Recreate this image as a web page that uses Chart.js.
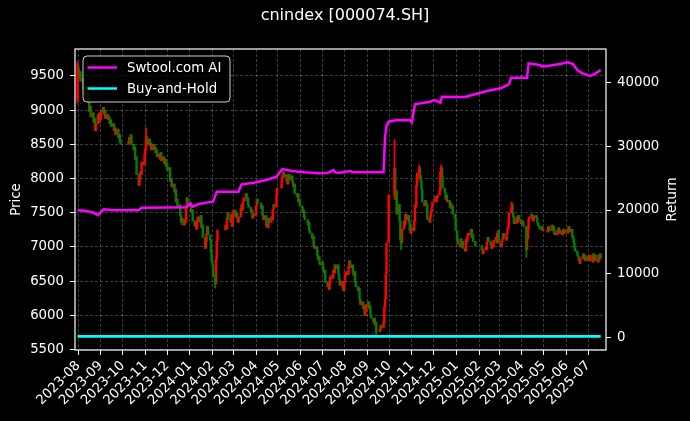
<!DOCTYPE html>
<html>
<head>
<meta charset="utf-8">
<script src="https://cdn.jsdelivr.net/npm/chart.js@4.4.1/dist/chart.umd.min.js"></script>
<style>
  html, body { margin: 0; padding: 0; background: #000; }
</style>
</head>
<body>
<canvas id="chart" width="690" height="421"></canvas>
<script>
// --- data ---
const chartTitle = 'cnindex [000074.SH]';
const startDate = '2023-07-31';
const endDate = '2025-07-18';
const tickMonths = ['2023-08', '2023-09', '2023-10', '2023-11', '2023-12', '2024-01', '2024-02', '2024-03',
  '2024-04', '2024-05', '2024-06', '2024-07', '2024-08', '2024-09', '2024-10', '2024-11', '2024-12',
  '2025-01', '2025-02', '2025-03', '2025-04', '2025-05', '2025-06', '2025-07'];
const priceTicks = [5500, 6000, 6500, 7000, 7500, 8000, 8500, 9000, 9500];
const returnTicks = [0, 10000, 20000, 30000, 40000];

// exchange holidays (weekdays without trading)
const holidays = ['2023-09-29', '2023-10-02', '2023-10-03', '2023-10-04', '2023-10-05', '2023-10-06',
  '2024-01-01', '2024-02-09', '2024-02-12', '2024-02-13', '2024-02-14', '2024-02-15', '2024-02-16',
  '2024-04-04', '2024-04-05', '2024-05-01', '2024-05-02', '2024-05-03', '2024-06-10',
  '2024-09-16', '2024-09-17', '2024-10-01', '2024-10-02', '2024-10-03', '2024-10-04', '2024-10-07',
  '2025-01-01', '2025-01-28', '2025-01-29', '2025-01-30', '2025-01-31', '2025-02-03', '2025-02-04',
  '2025-04-04', '2025-05-01', '2025-05-02', '2025-05-05', '2025-06-02'];

// daily closes, one list per month
const tradeMonths = ['2023-07', ...tickMonths];
const firstOpen = 9150;
const monthCloses = [
  [9650],
  [9600, 9480, 9560, 9420, 9460, 9300, 9350, 9220, 9280, 9120, 9180, 8980, 9060, 8900, 8960, 8820, 8880, 8700, 8800, 8940, 8820, 8960, 8860],
  [8980, 9040, 8940, 9000, 8880, 8940, 8860, 8900, 8800, 8860, 8760, 8800, 8700, 8740, 8640, 8720, 8600, 8640, 8540, 8500],
  [8540, 8600, 8520, 8640, 8500, 8420, 8460, 8280, 8320, 8060, 7900, 7980, 8100, 8060, 8240, 8200, 8360],
  [8440, 8620, 8500, 8580, 8480, 8520, 8420, 8500, 8420, 8460, 8380, 8420, 8320, 8360, 8280, 8380, 8260, 8320, 8220, 8280, 8180, 8230],
  [8120, 8160, 7960, 8000, 7880, 7920, 7800, 7840, 7660, 7700, 7580, 7620, 7460, 7360, 7420, 7320, 7400, 7360, 7600, 7720, 7640],
  [7600, 7500, 7540, 7380, 7300, 7360, 7260, 7380, 7440, 7360, 7460, 7280, 7320, 7140, 6980, 7080, 7200, 7300, 7180, 7100, 6920, 6800],
  [6740, 6560, 6460, 6820, 7080, 7250, 7320, 7260, 7420, 7500, 7400, 7360, 7480, 7300, 7460],
  [7540, 7440, 7500, 7420, 7360, 7440, 7560, 7620, 7540, 7660, 7720, 7780, 7680, 7720, 7620, 7580, 7500, 7540, 7420, 7480, 7460],
  [7600, 7700, 7640, 7560, 7600, 7460, 7400, 7460, 7300, 7340, 7280, 7420, 7360, 7440, 7400, 7540, 7620, 7580, 7780, 7860],
  [7960, 8040, 8100, 8020, 8060, 7960, 7920, 8000, 8060, 7980, 8040, 7940, 7880, 7920, 7780, 7740, 7780, 7660, 7700, 7600],
  [7580, 7500, 7540, 7440, 7400, 7320, 7360, 7240, 7200, 7120, 7160, 7020, 6980, 7000, 6880, 6820, 6860, 6760, 6740],
  [6780, 6680, 6620, 6660, 6480, 6420, 6480, 6380, 6520, 6580, 6540, 6660, 6620, 6740, 6680, 6740, 6600, 6520, 6440, 6500, 6400, 6360, 6480],
  [6580, 6640, 6600, 6720, 6800, 6700, 6740, 6620, 6580, 6640, 6480, 6420, 6360, 6400, 6240, 6160, 6200, 6100, 6140, 6000, 6060, 6160],
  [6200, 6100, 6140, 6000, 5960, 5900, 5960, 5860, 5900, 5760, 5800, 5860, 5820, 5900, 6120, 6240, 6600, 7060, 7760],
  [8150, 7700, 7820, 7480, 7620, 7380, 7100, 7060, 7260, 7380, 7320, 7480, 7400, 7460, 7360, 7240, 7200, 7280],
  [7240, 7380, 7620, 7580, 7900, 8080, 8160, 8040, 7960, 7840, 7660, 7600, 7680, 7640, 7620, 7400, 7360, 7440, 7520, 7580, 7660],
  [7700, 7740, 7660, 7720, 7760, 7820, 8100, 8160, 8040, 7860, 7800, 7700, 7760, 7660, 7680, 7580, 7640, 7560, 7600, 7480, 7420, 7240],
  [7120, 7040, 7000, 7120, 7060, 7080, 6980, 6940, 7120, 7080, 7160, 7200, 7180, 7260, 7140, 7180, 7080, 7020],
  [6960, 6900, 6960, 7000, 6960, 7080, 7140, 7080, 7040, 6980, 7060, 7000, 7100, 7140, 7060, 7200, 7240, 7060],
  [7000, 7080, 7120, 7200, 7140, 7100, 7200, 7260, 7300, 7500, 7560, 7620, 7500, 7440, 7340, 7400, 7440, 7360, 7460, 7400, 7340],
  [7380, 7360, 7300, 6960, 7120, 7260, 7400, 7440, 7480, 7420, 7380, 7440, 7460, 7420, 7360, 7320, 7300, 7260, 7300, 7240, 7260],
  [7220, 7300, 7240, 7260, 7320, 7240, 7300, 7200, 7180, 7240, 7220, 7280, 7200, 7240, 7180, 7200, 7260, 7240, 7200],
  [7260, 7300, 7220, 7260, 7160, 7120, 7060, 6980, 6940, 6880, 6860, 6800, 6760, 6840, 6860, 6900, 6820, 6880, 6800, 6860],
  [6820, 6880, 6800, 6880, 6780, 6900, 6820, 6880, 6800, 6780, 6880, 6820, 6900, 6840]
];

// the long shadows that stand out
const wickDates = ['2023-07-31', '2023-11-02', '2024-02-05', '2024-09-13', '2024-10-08', '2024-10-17', '2024-11-11', '2024-12-11', '2025-03-18', '2025-04-07'];
const wickLows  = [9100, 8450, 6400, 5720, 7700, 6960, 8000, 8000, 7500, 6850];
const wickHighs = [9710, 8740, 6600, 5820, 8570, 7200, 8200, 8200, 7660, 7300];

// strategy equity (right axis)
const aiDates = ['2023-07-31', '2023-08-10', '2023-08-21', '2023-08-28', '2023-09-05', '2023-09-20', '2023-10-23', '2023-10-27',
  '2023-12-28', '2024-01-02', '2024-01-05', '2024-01-12', '2024-01-26', '2024-02-02', '2024-02-07', '2024-03-08', '2024-03-12',
  '2024-03-29', '2024-04-15', '2024-04-29', '2024-05-07', '2024-05-20', '2024-06-07', '2024-06-25', '2024-07-08', '2024-07-16',
  '2024-07-19', '2024-07-25', '2024-08-08', '2024-08-12', '2024-09-23', '2024-09-25', '2024-09-27', '2024-09-30', '2024-10-11',
  '2024-10-29', '2024-11-01', '2024-11-05', '2024-11-26', '2024-12-02', '2024-12-10', '2024-12-12', '2025-01-13', '2025-01-24',
  '2025-02-12', '2025-03-03', '2025-03-14', '2025-03-17', '2025-04-08', '2025-04-10', '2025-04-25', '2025-04-30', '2025-05-23',
  '2025-06-03', '2025-06-10', '2025-06-16', '2025-06-23', '2025-07-04', '2025-07-11', '2025-07-18'];
const aiValues = [19950, 19900, 19600, 19210, 20100, 19950, 19950, 20360,
  20450, 21050, 20520, 20900, 21200, 21300, 22870, 22870, 24030,
  24290, 24710, 25230, 26440, 26130, 25920, 25760, 25800, 26280,
  25900, 25860, 26130, 25950, 25920, 31500, 33200, 33870, 34140,
  34100, 33780, 36600, 37010, 37280, 36860, 37800, 37750, 38100,
  38700, 39120, 39750, 40780, 40780, 43040, 42780, 42510, 42940,
  43200, 42940, 41990, 41470, 41050, 41470, 41990];

// buy-and-hold (right axis), flat near zero
const bhDates = ['2023-07-31', '2024-01-31', '2024-07-31', '2025-01-27', '2025-07-18'];
const bhValues = [160, 160, 160, 160, 160];

// --- helpers ---
const dayNum = s => Date.UTC(+s.slice(0, 4), +s.slice(5, 7) - 1, +s.slice(8, 10)) / 86400000;
const fmtMonth = n => new Date(n * 86400000).toISOString().slice(0, 7);

const upColor = '#ff0000';
const downColor = '#008000';

// build candles on the trading calendar
const holidaySet = new Set(holidays);
const first = dayNum(startDate), last = dayNum(endDate);
const bodies = [], bodyColors = [], colorByDay = {};
let prev = firstOpen;
tradeMonths.forEach((m, mi) => {
  const yr = +m.slice(0, 4), mo = +m.slice(5, 7);
  const days = [];
  for (let d = 1; d <= 31; d++) {
    const dt = new Date(Date.UTC(yr, mo - 1, d));
    if (dt.getUTCMonth() !== mo - 1) break;
    const key = dt.toISOString().slice(0, 10);
    const n = dayNum(key);
    const wd = dt.getUTCDay();
    if (wd === 0 || wd === 6 || holidaySet.has(key) || n < first || n > last) continue;
    days.push(n);
  }
  const cl = monthCloses[mi];
  if (cl.length !== days.length) console.warn(m, cl.length, days.length);
  cl.forEach((c, i) => {
    if (i >= days.length) return;
    const col = c >= prev ? upColor : downColor;
    bodies.push({ x: days[i], y: [prev, c] });
    bodyColors.push(col);
    colorByDay[days[i]] = col;
    prev = c;
  });
});

const wicks = wickDates.map((s, i) => ({ x: dayNum(s), y: [wickLows[i], wickHighs[i]] }));
const wickColors = wickDates.map(s => colorByDay[dayNum(s)] || upColor);
const aiPoints = aiDates.map((s, i) => ({ x: dayNum(s), y: aiValues[i] }));
const bhPoints = bhDates.map((s, i) => ({ x: dayNum(s), y: bhValues[i] }));

const d0 = dayNum('2023-08-01');
const font = { family: 'DejaVu Sans', size: 13.3 };
const gridColor = 'rgba(255,255,255,0.3)';

// black background, frame, titles and legend box
const decor = {
  id: 'decor',
  beforeDraw(chart) {
    const ctx = chart.ctx;
    ctx.save();
    ctx.fillStyle = '#000';
    ctx.fillRect(0, 0, chart.width, chart.height);
    ctx.restore();
  },
  afterDraw(chart) {
    const { ctx, chartArea: a } = chart;
    ctx.save();
    ctx.strokeStyle = '#fff';
    ctx.lineWidth = 1.2;
    ctx.strokeRect(a.left, a.top, a.right - a.left, a.bottom - a.top);

    ctx.fillStyle = '#fff';
    ctx.textAlign = 'center';
    ctx.textBaseline = 'middle';
    ctx.font = '16px "DejaVu Sans"';
    ctx.fillText(chartTitle, 345, 16);

    ctx.font = '13.3px "DejaVu Sans"';
    const midY = (a.top + a.bottom) / 2;
    [['Price', 16.5], ['Return', 673]].forEach(([t, x]) => {
      ctx.save();
      ctx.translate(x, midY);
      ctx.rotate(-Math.PI / 2);
      ctx.fillText(t, 0, 0);
      ctx.restore();
    });

    // legend
    const bx = a.left + 8, by = a.top + 7, bw = 147, bh = 46;
    ctx.beginPath();
    ctx.roundRect(bx, by, bw, bh, 4);
    ctx.fillStyle = 'rgba(0,0,0,0.8)';
    ctx.fill();
    ctx.strokeStyle = '#cccccc';
    ctx.lineWidth = 1;
    ctx.stroke();
    const items = chart.data.datasets.filter(ds => ds.type === 'line');
    items.forEach((ds, i) => {
      const y = by + 11.5 + i * 21;
      ctx.strokeStyle = ds.borderColor;
      ctx.lineWidth = 2.5;
      ctx.beginPath();
      ctx.moveTo(bx + 4.5, y);
      ctx.lineTo(bx + 34, y);
      ctx.stroke();
      ctx.fillStyle = '#fff';
      ctx.textAlign = 'left';
      ctx.fillText(ds.label, bx + 44, y + 1);
    });
    ctx.restore();
  }
};

new Chart(document.getElementById('chart'), {
  type: 'bar',
  data: {
    datasets: [
      { type: 'line', label: 'Swtool.com AI', data: aiPoints, borderColor: '#ff00ff', borderWidth: 2.5,
        pointRadius: 0, tension: 0, yAxisID: 'y2', order: 0 },
      { type: 'line', label: 'Buy-and-Hold', data: bhPoints, borderColor: '#00ffff', borderWidth: 2.8,
        pointRadius: 0, tension: 0, yAxisID: 'y2', order: 1 },
      { label: 'wick', data: wicks, backgroundColor: wickColors, barThickness: 1, grouped: false,
        yAxisID: 'y', order: 2 },
      { label: 'body', data: bodies, backgroundColor: bodyColors, barThickness: 1.8, minBarLength: 1,
        grouped: false, yAxisID: 'y', order: 3 }
    ]
  },
  options: {
    responsive: false,
    animation: false,
    devicePixelRatio: 1,
    events: [],
    layout: { padding: { top: 49, left: 0, right: 0, bottom: 0 } },
    plugins: { legend: { display: false }, tooltip: { enabled: false }, title: { display: false } },
    scales: {
      x: {
        type: 'linear', min: d0 - 4.5, max: d0 + 724.3, offset: false,
        afterBuildTicks: ax => { ax.ticks = tickMonths.map(m => ({ value: dayNum(m + '-01') })); },
        afterFit: s => { s.height = 71; },
        ticks: { autoSkip: false, minRotation: 45, maxRotation: 45, color: '#fff', font, padding: 3,
          callback: v => fmtMonth(v) },
        grid: { offset: false, color: gridColor, lineWidth: 0.8, tickColor: '#fff', tickWidth: 1,
          tickLength: 5, tickBorderDash: [] },
        border: { display: false, dash: [3, 2] }
      },
      y: {
        position: 'left', min: 5495, max: 9893,
        afterBuildTicks: ax => { ax.ticks = priceTicks.map(v => ({ value: v })); },
        afterFit: s => { s.width = 75; },
        ticks: { color: '#fff', font, padding: 6, callback: v => String(v) },
        grid: { color: gridColor, lineWidth: 0.8, tickColor: '#fff', tickWidth: 1, tickLength: 5, tickBorderDash: [] },
        border: { display: false, dash: [3, 2] }
      },
      y2: {
        position: 'right', min: -1995, max: 45295,
        afterBuildTicks: ax => { ax.ticks = returnTicks.map(v => ({ value: v })); },
        afterFit: s => { s.width = 84; },
        ticks: { color: '#fff', font, padding: 6, callback: v => String(v) },
        grid: { drawOnChartArea: false, tickColor: '#fff', tickWidth: 1, tickLength: 5, tickBorderDash: [] },
        border: { display: false }
      }
    }
  },
  plugins: [decor]
});
</script>
</body>
</html>
